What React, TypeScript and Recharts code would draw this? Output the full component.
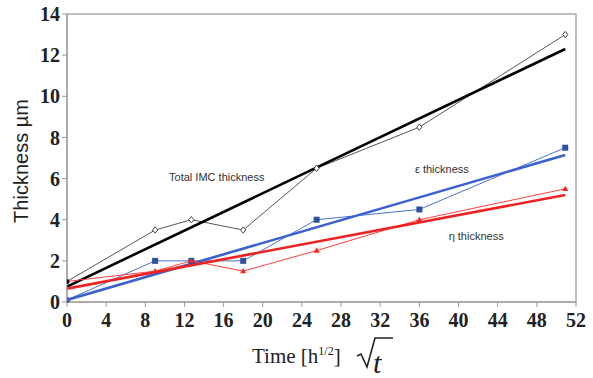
import { LineChart, Line, XAxis, YAxis, ReferenceArea, ReferenceDot, Label } from "recharts";

// sqrt(time) sample points
const times = [0, 9, 12.7, 18, 25.5, 36, 50.9];
const totalImc = [1, 3.5, 4, 3.5, 6.5, 8.5, 13];
const epsilon = [0.1, 2, 2, 2, 4, 4.5, 7.5];
const eta = [1, 1.5, 2, 1.5, 2.5, 4, 5.5];

// linear fits, read as end points
const fitX = [0, 50.9];
const totalFit = [0.75, 12.3];
const epsilonFit = [0.1, 7.15];
const etaFit = [0.65, 5.2];

const xTicks = [0, 4, 8, 12, 16, 20, 24, 28, 32, 36, 40, 44, 48, 52];
const yTicks = [0, 2, 4, 6, 8, 10, 12, 14];

const serif = "Liberation Serif, Times New Roman, serif";
const sans = "Liberation Sans, Arial, sans-serif";

const toRows = (xs: number[], ys: number[]) => xs.map((x, i) => ({ x, y: ys[i] }));

const Diamond = (props: any) => {
  const { cx, cy, index } = props;
  if (cx == null || cy == null) return null;
  if (index === 0) return <circle key={index} cx={cx} cy={cy} r={2.5} fill="#111" />;
  return (
    <path key={index} d={`M${cx},${cy - 3.2}L${cx + 2.6},${cy}L${cx},${cy + 3.2}L${cx - 2.6},${cy}Z`} fill="#fff" stroke="#444" strokeWidth={1} />
  );
};

const Square = (props: any) => {
  const { cx, cy, index } = props;
  if (cx == null || cy == null) return null;
  if (index === 0) return <circle key={index} cx={cx} cy={cy} r={3} fill="#3a5fcd" />;
  return <rect key={index} x={cx - 3} y={cy - 3} width={6} height={6} fill="#2f4f9f" />;
};

const Triangle = (props: any) => {
  const { cx, cy, index } = props;
  if (cx == null || cy == null || index === 0) return null;
  return <path key={index} d={`M${cx},${cy - 3.2}L${cx + 3},${cy + 2.2}L${cx - 3},${cy + 2.2}Z`} fill="#ff2020" />;
};

const XTitle = (props: any) => {
  const vb = props.viewBox;
  const base = vb.y + 61;
  const left = vb.x + 185;
  const rx = left + 105;
  return (
    <g fontFamily={serif} fill="#222">
      <text x={left} y={base} fontSize={21}>
        Time [h
        <tspan dy={-8} fontSize={12}>1/2</tspan>
        <tspan dy={8}>]</tspan>
      </text>
      <path
        d={`M${rx},${base - 7}L${rx + 4},${base - 9}L${rx + 10},${base + 4}L${rx + 18},${base - 25}L${rx + 36},${base - 25}`}
        fill="none"
        stroke="#222"
        strokeWidth={1.6}
      />
      <text x={rx + 16} y={base + 10} fontSize={30} fontStyle="italic">t</text>
    </g>
  );
};

const note = (text: string) => (props: any) => {
  const vb = props.viewBox;
  return (
    <text x={vb.cx ?? vb.x} y={(vb.cy ?? vb.y) + 4} textAnchor="middle" fontSize={11} fontFamily={sans} fill="#333">
      {text}
    </text>
  );
};

export default function App() {
  return (
    <div style={{ width: 593, height: 378 }}>
      <style>{`body{margin:0}`}</style>
      <LineChart width={593} height={378} margin={{ top: 14, right: 17, left: 0, bottom: 0 }}>
        <XAxis
          type="number"
          dataKey="x"
          domain={[0, 52]}
          ticks={xTicks}
          allowDataOverflow
          stroke="#999"
          tickLine={{ stroke: "#999" }}
          tickSize={5}
          height={76}
          tick={{ fontSize: 20, fontFamily: serif, fill: "#222", fontWeight: 600, dy: 4 }}
        >
          <Label content={<XTitle />} />
        </XAxis>
        <YAxis
          type="number"
          dataKey="y"
          domain={[0, 14]}
          ticks={yTicks}
          width={67}
          stroke="#999"
          tickSize={5}
          tick={{ fontSize: 20, fontFamily: serif, fill: "#222", fontWeight: 600 }}
        >
          <Label
            value="Thickness µm"
            angle={-90}
            position="insideLeft"
            offset={0}
            dx={21}
            dy={3}
            style={{ fontSize: 20, fontFamily: sans, fill: "#222", textAnchor: "middle" }}
          />
        </YAxis>
        <ReferenceArea x1={0} x2={52} y1={0} y2={14} fill="none" stroke="#aaa" strokeWidth={1.5} ifOverflow="visible" />

        <Line data={toRows(times, totalImc)} dataKey="y" stroke="#555" strokeWidth={1} dot={<Diamond />} isAnimationActive={false} />
        <Line data={toRows(fitX, totalFit)} dataKey="y" stroke="#000" strokeWidth={2.6} dot={false} isAnimationActive={false} />
        <Line data={toRows(times, epsilon)} dataKey="y" stroke="#4a72d0" strokeWidth={1} dot={<Square />} isAnimationActive={false} />
        <Line data={toRows(fitX, epsilonFit)} dataKey="y" stroke="#3a62cf" strokeWidth={2.6} dot={false} isAnimationActive={false} />
        <Line data={toRows(times, eta)} dataKey="y" stroke="#ff4040" strokeWidth={1} dot={<Triangle />} isAnimationActive={false} />
        <Line data={toRows(fitX, etaFit)} dataKey="y" stroke="#ee2222" strokeWidth={2.6} dot={false} isAnimationActive={false} />

        <ReferenceDot x={15.3} y={6.07} r={0} fill="none" stroke="none" label={note("Total IMC thickness")} />
        <ReferenceDot x={38.3} y={6.46} r={0} fill="none" stroke="none" label={note("ε thickness")} />
        <ReferenceDot x={41.8} y={3.2} r={0} fill="none" stroke="none" label={note("η thickness")} />
      </LineChart>
    </div>
  );
}
